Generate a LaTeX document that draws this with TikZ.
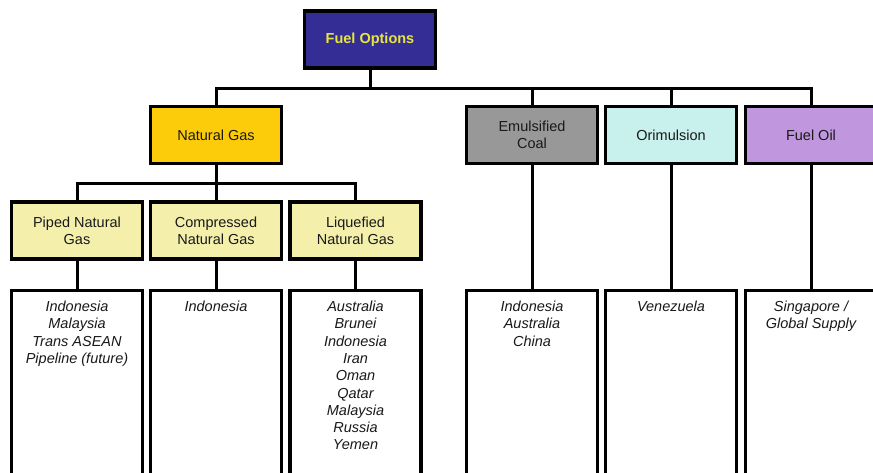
\documentclass[tikz,border=0pt]{standalone}
\usepackage{fontspec}
\setmainfont{Liberation Sans}
\definecolor{fodark}{RGB}{52,45,150}
\definecolor{foyel}{RGB}{232,230,60}
\definecolor{nggold}{RGB}{252,204,10}
\definecolor{lightyel}{RGB}{244,240,172}
\definecolor{coalgray}{RGB}{152,152,152}
\definecolor{orcyan}{RGB}{200,240,236}
\definecolor{oilpurple}{RGB}{192,150,222}
\definecolor{txt}{RGB}{25,25,25}
\tikzset{
  box/.style={draw=black, line width=3.4pt, minimum width=131pt, minimum height=57pt, inner sep=0pt, align=center, text=txt, font=\fontsize{14.5}{17.3}\selectfont},
  listbox/.style={draw=black, line width=3.4pt, fill=white, minimum width=131pt, minimum height=240pt, inner sep=0pt},
  listtxt/.style={anchor=north, inner sep=0pt, align=center, text=txt, font=\fontsize{14.5}{17.3}\selectfont\itshape},
  conn/.style={draw=black, line width=3pt}
}
\begin{document}
\begin{tikzpicture}[x=1pt,y=-1pt]
\useasboundingbox (0,0) rectangle (873,472);
\clip (0,0) rectangle (873,472);
\fill[white] (0,0) rectangle (873,472);
% nodes
\node[box, fill=fodark, text=foyel, font=\fontsize{14.5}{17.3}\selectfont\bfseries] (fo) at (370,39.5) {Fuel Options};
\node[box, fill=nggold] (ng) at (216,135) {Natural Gas};
\node[box, fill=coalgray] (ec) at (532,135) {Emulsified\\Coal};
\node[box, fill=orcyan] (or) at (671,135) {Orimulsion};
\node[box, fill=oilpurple] (oil) at (811,135) {Fuel Oil};
\node[box, fill=lightyel] (png) at (77,230.5) {Piped Natural\\Gas};
\node[box, fill=lightyel] (cng) at (216,230.5) {Compressed\\Natural Gas};
\node[box, fill=lightyel] (lng) at (355.5,230.5) {Liquefied\\Natural Gas};
% list boxes
\node[listbox] (lpng) at (77,410.5) {};
\node[listbox] (lcng) at (216,410.5) {};
\node[listbox] (llng) at (355.5,410.5) {};
\node[listbox] (lec) at (532,410.5) {};
\node[listbox] (lor) at (671,410.5) {};
\node[listbox] (loil) at (811,410.5) {};
\node[listtxt] (tpng) at ([yshift=-12pt]lpng.north) {Indonesia\\Malaysia\\Trans ASEAN\\Pipeline (future)};
\node[listtxt] (tcng) at ([yshift=-12pt]lcng.north) {Indonesia};
\node[listtxt] (tlng) at ([yshift=-12pt]llng.north) {Australia\\Brunei\\Indonesia\\Iran\\Oman\\Qatar\\Malaysia\\Russia\\Yemen};
\node[listtxt] (tec) at ([yshift=-12pt]lec.north) {Indonesia\\Australia\\China};
\node[listtxt] (tor) at ([yshift=-12pt]lor.north) {Venezuela};
\node[listtxt] (toil) at ([yshift=-12pt]loil.north) {Singapore /\\Global Supply};
% connectors
\coordinate (bar1) at (0,88);
\coordinate (bar2) at (0,183);
\draw[conn] (fo.south) -- (fo.south |- bar1);
\draw[conn] (ng.north) -- (ng.north |- bar1) -| (oil.north);
\draw[conn] (ec.north) -- (ec.north |- bar1);
\draw[conn] (or.north) -- (or.north |- bar1);
\draw[conn] (ng.south) -- (ng.south |- bar2);
\draw[conn] (png.north) -- (png.north |- bar2) -| (lng.north);
\draw[conn] (cng.north) -- (cng.north |- bar2);
\draw[conn] (png.south) -- (lpng.north);
\draw[conn] (cng.south) -- (lcng.north);
\draw[conn] (lng.south) -- (llng.north);
\draw[conn] (ec.south) -- (lec.north);
\draw[conn] (or.south) -- (lor.north);
\draw[conn] (oil.south) -- (loil.north);
\end{tikzpicture}
\end{document}
